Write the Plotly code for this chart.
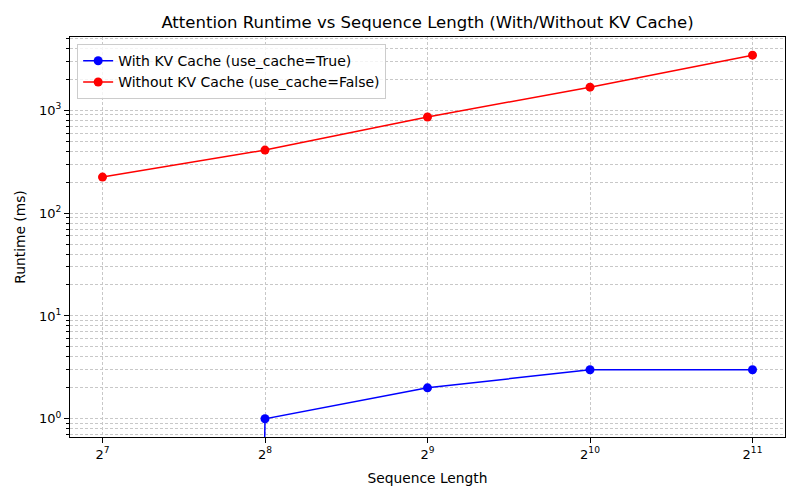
import plotly.graph_objects as go

# sequence lengths (x) and runtimes in ms (y)
seq_len = [128, 256, 512, 1024, 2048]
with_cache = [1e-100, 1.0, 2.0, 3.0, 3.0]  # first value is 0 -> clipped on log axis like matplotlib
without_cache = [224, 410, 860, 1675, 3430]

x_tickvals = [128, 256, 512, 1024, 2048]
x_ticktext = ["2<sup>7</sup>", "2<sup>8</sup>", "2<sup>9</sup>", "2<sup>10</sup>", "2<sup>11</sup>"]
y_tickvals = [1, 10, 100, 1000]
y_ticktext = ["10<sup>0</sup>", "10<sup>1</sup>", "10<sup>2</sup>", "10<sup>3</sup>"]

LOG2 = 0.30103
GRIDCOL = "#c8c8c8"
DASH = "3px,2px"
# page body has an 8px margin, so the figure is drawn 8px smaller and offset
W, H = 792, 492

fig = go.Figure()
fig.add_trace(go.Scatter(x=seq_len, y=with_cache, mode="lines+markers",
                         name="With KV Cache (use_cache=True)",
                         line=dict(color="blue", width=1.5),
                         marker=dict(color="blue", size=9)))
fig.add_trace(go.Scatter(x=seq_len, y=without_cache, mode="lines+markers",
                         name="Without KV Cache (use_cache=False)",
                         line=dict(color="red", width=1.5),
                         marker=dict(color="red", size=9)))

grid = dict(showgrid=True, gridcolor=GRIDCOL, gridwidth=0.6, griddash=DASH)

fig.update_layout(
    width=W, height=H,
    margin=dict(l=62, r=15, t=29, b=63),
    paper_bgcolor="white", plot_bgcolor="white",
    font=dict(family="DejaVu Sans", size=13, color="black"),
    title=dict(text="Attention Runtime vs Sequence Length (With/Without KV Cache)",
               x=0.5, xref="paper", y=1 - 14 / H, yref="container",
               yanchor="middle", font=dict(size=16.5), automargin=False),
    legend=dict(x=0.01, y=0.982, xanchor="left", yanchor="top",
                bgcolor="rgba(255,255,255,0.8)", bordercolor="#cccccc",
                borderwidth=1, font=dict(size=14), tracegroupgap=0),
    showlegend=True,
)

fig.update_xaxes(type="log", range=[6.8 * LOG2, 11.2 * LOG2], automargin=False,
                 tickvals=x_tickvals, ticktext=x_ticktext,
                 ticks="outside", ticklen=5, tickcolor="black",
                 tickfont=dict(size=13),
                 showline=True, linecolor="black", linewidth=1, mirror=True,
                 zeroline=False,
                 title=dict(text="Sequence Length", standoff=12, font=dict(size=13.8)), **grid)

fig.update_yaxes(type="log", range=[-0.177, 3.712], automargin=False,
                 tickvals=y_tickvals, ticktext=y_ticktext,
                 ticks="outside", ticklen=5, tickcolor="black",
                 tickfont=dict(size=13),
                 showline=True, linecolor="black", linewidth=1, mirror=True,
                 zeroline=False,
                 minor=dict(dtick="D1", ticks="outside", ticklen=3, tickcolor="black",
                            showgrid=True, gridcolor=GRIDCOL, gridwidth=0.6, griddash=DASH),
                 title=dict(text="Runtime (ms)", standoff=10, font=dict(size=13.8)), **grid)

fig.write_html("out.html")
